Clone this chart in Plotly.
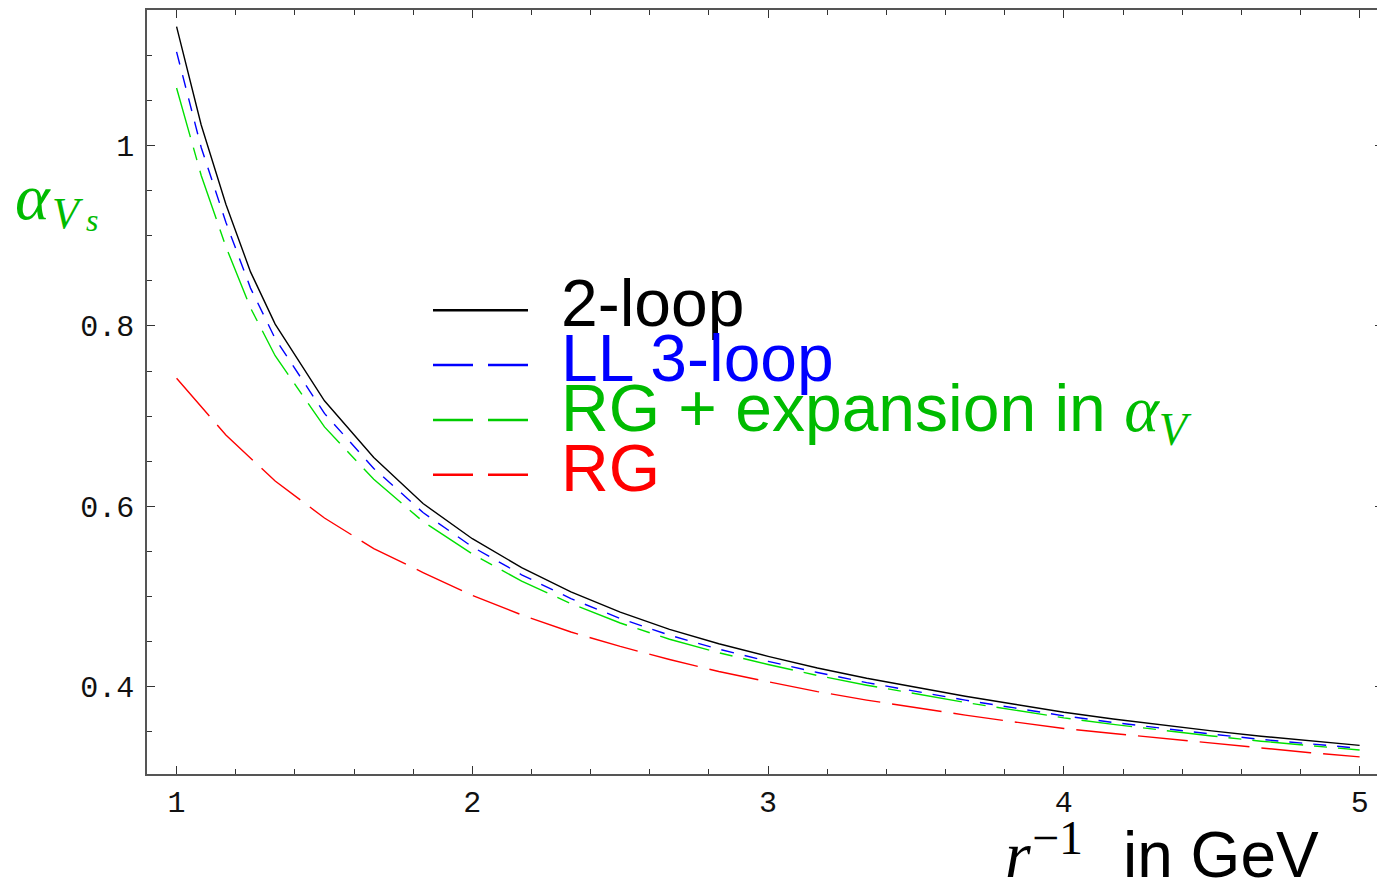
import plotly.graph_objects as go

# ---- data ----
x_nodes = [1.0, 1.0833, 1.1667, 1.25, 1.3333, 1.5, 1.6667, 1.8333, 2.0, 2.1667, 2.3333,
           2.5, 2.6667, 2.8333, 3.0, 3.1667, 3.3333, 3.5, 3.6667, 3.8333, 4.0, 4.1667,
           4.3333, 4.5, 4.6667, 4.8333, 5.0]
two_loop = [1.132, 1.023, 0.935, 0.860, 0.802, 0.717, 0.654, 0.603, 0.564, 0.532, 0.505,
            0.4825, 0.4635, 0.4475, 0.4335, 0.4206, 0.4092, 0.3988, 0.3892, 0.3804, 0.3715,
            0.364, 0.3572, 0.3508, 0.3449, 0.3396, 0.3348]
ll_three_loop = [1.104, 0.998, 0.915, 0.842, 0.786, 0.703, 0.642, 0.593, 0.555, 0.524, 0.4975,
                 0.4755, 0.457, 0.4415, 0.428, 0.4156, 0.4044, 0.3943, 0.3849, 0.3763, 0.3675,
                 0.3602, 0.3535, 0.3472, 0.3414, 0.3362, 0.3315]
rg_expansion = [1.064, 0.967, 0.888, 0.820, 0.767, 0.688, 0.630, 0.583, 0.547, 0.517, 0.492,
                0.4705, 0.4525, 0.4375, 0.4245, 0.4123, 0.4015, 0.3916, 0.3824, 0.3739, 0.3653,
                0.358, 0.3514, 0.3452, 0.3394, 0.3343, 0.3296]
x_rg = [1.0, 1.1667, 1.3333, 1.5, 1.6667, 1.8333, 2.0, 2.1667, 2.3333, 2.5, 2.6667, 2.8333,
        3.0, 3.1667, 3.3333, 3.5, 3.6667, 3.8333, 4.0, 4.1667, 4.3333, 4.5, 4.6667, 4.8333, 5.0]
rg = [0.742, 0.679, 0.628, 0.587, 0.553, 0.5265, 0.501, 0.4795, 0.4605, 0.4445, 0.430, 0.4167,
      0.4053, 0.3944, 0.385, 0.3763, 0.3683, 0.3607, 0.3535, 0.348, 0.3425, 0.337, 0.3315,
      0.3266, 0.322]

x_ticks = [1, 2, 3, 4, 5]
y_ticks = [0.4, 0.6, 0.8, 1.0]
y_tick_text = ["0.4", "0.6", "0.8", "1"]

legend_labels = ["2-loop", "LL 3-loop",
                 "RG + expansion in <span style=\"font-family:'Liberation Serif'\"><i>α</i><sub><i>V</i></sub></span>",
                 "RG"]
legend_text_colors = ["#000000", "#0000ff", "#00bb00", "#ff0000"]
legend_line_colors = ["#000000", "#0000ff", "#00cc00", "#ff0000"]

# ---- figure geometry (page body has an 8px margin) ----
OFF = 8
W, H = 1385 - OFF, 883 - OFF
ML, MR, MT, MB = 147 - OFF, 2, 0, 109
PW, PH = W - ML - MR, H - MT - MB


def px_x(px):
    return (px - OFF - ML) / PW


def px_y(py):
    return (H - MB - (py - OFF)) / PH


fig = go.Figure()
fig.add_trace(go.Scatter(x=x_nodes, y=two_loop, mode="lines", name="2-loop",
                         line=dict(color="#000000", width=1.4)))
fig.add_trace(go.Scatter(x=x_nodes, y=ll_three_loop, mode="lines", name="LL 3-loop",
                         line=dict(color="#0000ff", width=1.4, dash="13px,11px")))
fig.add_trace(go.Scatter(x=x_nodes, y=rg_expansion, mode="lines", name="RG + expansion",
                         line=dict(color="#00e000", width=1.4, dash="51px,11px,13px,11px")))
fig.add_trace(go.Scatter(x=x_rg, y=rg, mode="lines", name="RG",
                         line=dict(color="#ff0000", width=1.4, dash="50px,12px")))

axis_common = dict(showgrid=False, zeroline=False, showline=True, linecolor="#555555",
                   linewidth=1.5, mirror="allticks", ticks="inside", tickcolor="#333333",
                   tickwidth=1.2, ticklen=8,
                   tickfont=dict(family="Liberation Mono", size=30, color="#111111"))

fig.update_xaxes(range=[0.9, 5.079], tickmode="array", tickvals=x_ticks,
                 ticktext=[str(v) for v in x_ticks], ticklabelstandoff=0,
                 minor=dict(dtick=0.2, tick0=0, ticks="inside", ticklen=5, tickcolor="#333333",
                            tickwidth=1.2, showgrid=False),
                 **axis_common)
fig.update_yaxes(range=[0.303, 1.1505], tickmode="array", tickvals=y_ticks,
                 ticktext=y_tick_text, ticklabelstandoff=5,
                 minor=dict(dtick=0.05, tick0=0, ticks="inside", ticklen=5, tickcolor="#333333",
                            tickwidth=1.2, showgrid=False),
                 **axis_common)

# legend drawn manually (long line samples as in the reference)
legend_y_px = [309, 364, 419, 474]
text_center_px = [302, 357, 412, 467]
shapes = []
for i, (ypx, col) in enumerate(zip(legend_y_px, legend_line_colors)):
    if i == 0:
        segs = [(433, 528)]
    else:
        segs = [(433, 473), (488, 528)]
    for a, b in segs:
        shapes.append(dict(type="line", xref="paper", yref="paper",
                           x0=px_x(a), x1=px_x(b), y0=px_y(ypx), y1=px_y(ypx),
                           line=dict(color=col, width=2.6)))
annotations = []
for lab, col, cy in zip(legend_labels, legend_text_colors, text_center_px):
    annotations.append(dict(text=lab, xref="paper", yref="paper", x=px_x(559), y=px_y(cy),
                            xanchor="left", yanchor="middle", showarrow=False,
                            font=dict(family="Liberation Sans", size=66, color=col)))

# x-axis title: r^{-1} in GeV
annotations.append(dict(text="<i>r</i>", xref="paper", yref="paper", x=px_x(1003), y=px_y(855),
                        xanchor="left", yanchor="middle", showarrow=False,
                        font=dict(family="Liberation Serif", size=66, color="#000000")))
annotations.append(dict(text="−1", xref="paper", yref="paper", x=px_x(1030), y=px_y(838),
                        xanchor="left", yanchor="middle", showarrow=False,
                        font=dict(family="Liberation Serif", size=48, color="#000000")))
annotations.append(dict(text="in GeV", xref="paper", yref="paper", x=px_x(1321), y=px_y(855),
                        xanchor="right", yanchor="middle", showarrow=False,
                        font=dict(family="Liberation Sans", size=64, color="#000000")))

# y-axis title alpha_{V_s}
annotations.append(dict(text="<i>α</i>", xref="paper", yref="paper", x=px_x(13), y=px_y(195),
                        xanchor="left", yanchor="middle", showarrow=False,
                        font=dict(family="Liberation Serif", size=66, color="#00bb00")))
annotations.append(dict(text="<i>V</i>", xref="paper", yref="paper", x=px_x(50), y=px_y(212),
                        xanchor="left", yanchor="middle", showarrow=False,
                        font=dict(family="Liberation Serif", size=44, color="#00bb00")))
annotations.append(dict(text="<i>s</i>", xref="paper", yref="paper", x=px_x(84), y=px_y(219),
                        xanchor="left", yanchor="middle", showarrow=False,
                        font=dict(family="Liberation Serif", size=32, color="#00bb00")))

fig.update_layout(width=W, height=H, margin=dict(l=ML, r=MR, t=MT, b=MB),
                  paper_bgcolor="white", plot_bgcolor="white", showlegend=False,
                  shapes=shapes, annotations=annotations)

fig.write_html("out.html")
